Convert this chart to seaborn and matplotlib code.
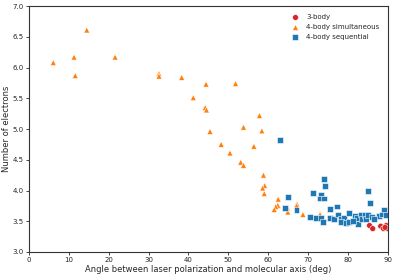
import matplotlib
matplotlib.use("Agg")
import matplotlib.pyplot as plt
import seaborn as sns
import pandas as pd

three_x = [85.4, 86.2, 88.2, 88.9, 89.6, 90.0, 89.3]
three_y = [3.43, 3.38, 3.42, 3.38, 3.43, 3.38, 3.40]

sim_x = [6.1, 11.3, 11.6, 14.5, 21.6, 32.6, 32.6, 38.3, 41.2, 44.4, 51.8, 44.2, 44.5,
         57.8, 45.4, 53.8, 58.4, 48.2, 56.4, 50.4, 53.1, 53.8, 58.8, 59.1, 58.6, 59.0,
         62.5, 62.4, 61.9, 61.5, 64.8, 64.9, 67.2, 67.1, 68.7, 73.0]
sim_y = [6.08, 6.17, 5.87, 6.61, 6.17, 5.90, 5.86, 5.84, 5.51, 5.73, 5.74, 5.35, 5.31,
         5.22, 4.96, 5.03, 4.97, 4.75, 4.72, 4.61, 4.46, 4.41, 4.25, 4.08, 4.04, 3.95,
         3.86, 3.76, 3.74, 3.69, 3.72, 3.65, 3.78, 3.75, 3.61, 3.61]

seq_x = [63.0, 73.9, 74.3, 71.3, 73.3, 72.9, 74.0, 65.0, 64.1, 67.1, 75.4, 77.2, 85.0,
         85.5, 89.1, 70.5, 72.0, 73.2, 73.7, 75.4, 76.4, 77.6, 78.2, 78.9, 78.2, 79.4,
         80.2, 80.3, 81.8, 82.3, 82.6, 83.3, 83.4, 84.3, 84.6, 85.1, 86.0, 87.8, 88.6,
         89.5, 86.5, 81.3]
seq_y = [4.82, 4.19, 4.07, 3.96, 3.93, 3.87, 3.87, 3.89, 3.71, 3.69, 3.70, 3.74, 3.99,
         3.80, 3.69, 3.57, 3.56, 3.56, 3.49, 3.56, 3.54, 3.61, 3.53, 3.56, 3.49, 3.47,
         3.63, 3.49, 3.58, 3.55, 3.46, 3.61, 3.53, 3.60, 3.53, 3.60, 3.57, 3.58, 3.61,
         3.60, 3.53, 3.51]

groups = ["3-body", "4-body simultaneous", "4-body sequential"]

df = pd.DataFrame({
    "angle": three_x + sim_x + seq_x,
    "electrons": three_y + sim_y + seq_y,
    "group": [groups[0]] * len(three_x) + [groups[1]] * len(sim_x) + [groups[2]] * len(seq_x),
})

sns.set_style("ticks")
plt.rcParams["font.family"] = ["DejaVu Sans"]

fig = plt.figure(figsize=(3.97, 2.76), dpi=100)
ax = fig.add_axes([0.073, 0.087, 0.904, 0.891])

palette = {groups[0]: "#d62728", groups[1]: "#ff7f0e", groups[2]: "#1f77b4"}
markers = {groups[0]: "o", groups[1]: "^", groups[2]: "s"}
sns.scatterplot(data=df, x="angle", y="electrons", hue="group", style="group",
                hue_order=groups, style_order=groups, palette=palette, markers=markers,
                s=18, edgecolor="white", linewidth=0.4, ax=ax)

ax.set_xlim(0, 90)
ax.set_ylim(3.0, 7.0)
ax.set_xticks(range(0, 91, 10))
ax.set_yticks([3.0, 3.5, 4.0, 4.5, 5.0, 5.5, 6.0, 6.5, 7.0])
ax.set_yticklabels(["3.0", "3.5", "4.0", "4.5", "5.0", "5.5", "6.0", "6.5", "7.0"])
ax.tick_params(labelsize=5, length=2.5, width=0.6, pad=1.2)
for sp in ax.spines.values():
    sp.set_visible(True)
    sp.set_color("#333333")
    sp.set_linewidth(0.8)
ax.set_xlabel("Angle between laser polarization and molecular axis (deg)", fontsize=6, labelpad=1)
ax.set_ylabel("Number of electrons", fontsize=6, labelpad=1.5)

leg = ax.legend(loc="upper right", frameon=False, fontsize=5, markerscale=1.0,
                handletextpad=0.6, borderaxespad=0.8, labelspacing=0.55)
leg.set_title(None)

fig.savefig("out.png", dpi=100)
